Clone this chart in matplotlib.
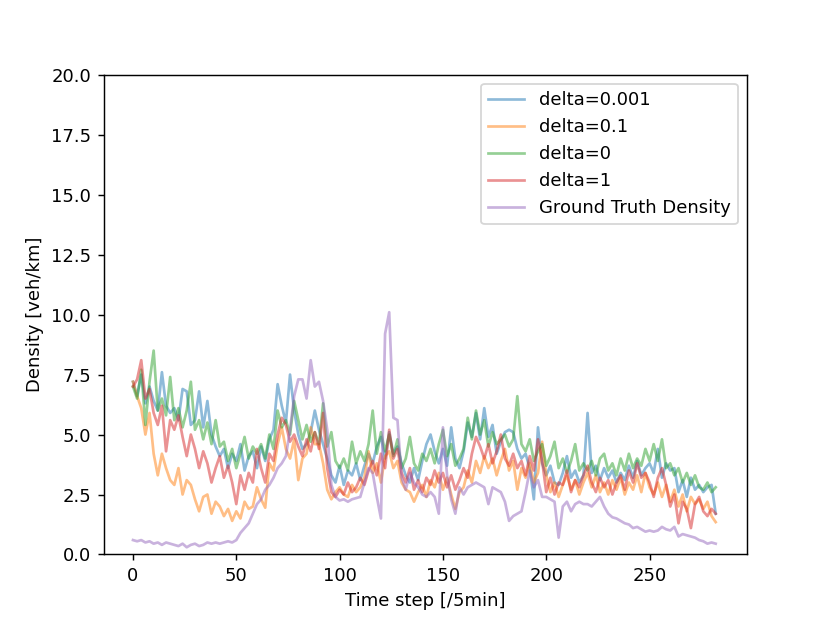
import numpy as np
import matplotlib
matplotlib.use("Agg")
import matplotlib.pyplot as plt

steps = list(range(0, 284, 2))

delta_0001 = [7.2, 6.6, 7.5, 6.3, 7.0, 6.4, 6.0, 7.6, 6.2, 5.9,
              6.1, 5.6, 6.9, 6.8, 5.4, 5.6, 6.8, 5.3, 6.4, 5.0,
              4.5, 4.1, 4.4, 3.6, 4.2, 3.9, 4.6, 3.5, 4.1, 4.3,
              3.6, 4.5, 3.9, 4.8, 5.2, 7.1, 6.2, 5.5, 7.5, 6.0,
              5.0, 4.4, 4.6, 5.1, 6.0, 5.2, 4.6, 4.0, 3.3, 3.0,
              3.7, 2.9, 3.5, 3.3, 3.8, 3.1, 3.7, 4.2, 3.8, 4.5,
              4.9, 4.0, 5.1, 4.2, 4.5, 3.8, 3.3, 3.0, 3.6, 3.1,
              3.9, 4.6, 5.0, 4.3, 3.8, 4.4, 3.7, 5.3, 4.0, 3.6,
              4.3, 5.5, 4.9, 5.9, 4.8, 6.1, 4.9, 5.4, 4.2, 4.7,
              5.1, 5.2, 5.1, 4.4, 4.0, 4.2, 3.6, 2.3, 5.3, 3.8,
              3.3, 3.7, 3.0, 2.9, 3.4, 4.1, 3.2, 3.5, 3.0, 3.3,
              5.9, 3.4, 3.7, 3.1, 3.6, 3.2, 3.5, 3.0, 3.4, 3.1,
              3.7, 3.2, 3.9, 3.3, 3.6, 3.8, 3.4, 4.4, 3.2, 3.8,
              3.5, 3.6, 2.6, 3.1, 2.4, 3.2, 2.7, 2.9, 2.6, 2.8,
              2.9, 1.7]

delta_01 = [7.2, 6.6, 6.1, 5.0, 5.9, 4.2, 3.3, 4.2, 3.6, 3.1,
            2.9, 3.6, 2.5, 3.1, 2.9, 2.3, 1.8, 2.4, 2.5, 1.7,
            2.2, 2.0, 1.6, 1.9, 1.4, 1.8, 1.5, 2.2, 1.9, 2.0,
            2.8, 2.3, 1.95, 3.8, 3.5, 4.6, 5.3, 4.4, 4.0, 4.8,
            3.1, 4.0, 4.2, 5.3, 4.6, 4.6, 3.8, 2.7, 2.3, 2.6,
            2.8, 2.5, 2.4, 2.9, 2.6, 2.8, 3.2, 4.3, 3.4, 3.8,
            3.0, 4.1, 4.3, 3.6, 3.9, 3.0, 2.7, 2.6, 2.2, 2.6,
            2.9, 2.4, 3.1, 2.8, 3.4, 2.7, 3.2, 2.5, 1.9, 2.6,
            2.8, 3.5, 3.0, 3.9, 3.4, 4.1, 3.6, 4.0, 3.3, 3.9,
            4.4, 3.5, 3.9, 2.7, 3.6, 3.2, 3.8, 3.0, 3.4, 4.7,
            3.3, 2.6, 3.0, 2.4, 2.9, 3.3, 2.7, 3.1, 2.5, 3.0,
            3.4, 2.8, 3.3, 2.6, 3.0, 2.5, 3.1, 2.7, 3.2, 2.5,
            3.0, 2.7, 3.3, 2.6, 3.4, 2.8, 2.5, 3.0, 2.4, 2.9,
            2.2, 2.7, 2.0, 2.5, 1.8, 2.4, 2.1, 2.3, 1.9, 2.2,
            1.6, 1.35]

delta_0 = [7.0, 6.5, 7.7, 5.4, 7.2, 8.5, 6.0, 6.5, 5.8, 7.4,
           5.6, 6.1, 5.3, 6.0, 7.2, 5.2, 5.6, 4.8, 5.5, 4.6,
           5.6, 4.5, 4.7, 3.9, 4.4, 3.6, 4.2, 4.9, 4.0, 4.5,
           4.2, 4.6, 4.0, 5.0, 4.4, 6.0, 5.3, 5.6, 5.0, 6.4,
           5.6, 4.8, 5.4, 4.7, 5.1, 4.6, 6.3, 4.5, 5.1, 3.9,
           3.6, 4.0, 3.5, 4.7, 3.8, 4.3, 3.9, 4.6, 6.0, 4.2,
           5.1, 4.3, 5.0, 4.1, 4.8, 3.6, 4.0, 4.9, 3.8, 3.5,
           4.2, 3.9, 4.4, 3.8, 4.6, 5.2, 4.1, 4.6, 3.7, 4.0,
           4.4, 5.7, 4.8, 6.0, 5.0, 5.6, 4.5, 5.1, 4.6, 4.8,
           5.0, 4.5, 4.8, 6.6, 4.6, 4.3, 4.8, 3.9, 4.3, 4.6,
           3.7, 4.1, 4.7, 3.6, 4.0, 3.4, 3.9, 4.6, 3.5, 3.8,
           3.5, 3.9, 3.3, 4.0, 4.2, 3.5, 3.8, 3.3, 4.0, 3.5,
           4.2, 3.6, 4.0, 3.7, 4.4, 3.9, 4.6, 3.9, 4.8, 3.6,
           3.8, 3.3, 3.6, 3.0, 3.4, 2.9, 3.3, 2.8, 2.7, 3.0,
           2.6, 2.8]

delta_1 = [7.0, 7.3, 8.1, 6.5, 6.9, 5.9, 5.4, 6.2, 4.3, 5.6,
           5.2, 5.8, 4.9, 4.1, 5.0, 4.4, 3.6, 4.3, 3.8, 3.0,
           3.6, 4.1, 3.2, 3.7, 3.0, 2.1, 3.3, 2.7, 3.4, 3.0,
           4.4, 3.6, 3.0, 4.2, 3.9, 5.0, 5.7, 5.4, 4.7, 5.0,
           4.5, 4.1, 4.8, 4.3, 5.1, 4.4, 5.9, 3.6, 2.6, 2.4,
           2.7, 2.5, 3.0, 2.6, 2.8, 3.2, 2.9, 3.5, 3.9, 3.3,
           4.2, 3.6, 5.2, 4.0, 4.4, 3.4, 3.0, 3.6, 2.7, 3.1,
           2.6, 3.2, 2.9, 3.5, 3.0, 3.4, 2.8, 3.3, 2.7, 3.1,
           3.6, 3.2, 4.2, 4.9, 4.5, 4.0, 4.6, 3.8, 4.3, 5.0,
           4.0, 3.7, 4.2, 3.6, 3.9, 3.3, 4.1, 3.5, 4.8, 3.9,
           2.6, 3.2, 2.5, 3.0, 2.9, 3.5, 2.6, 3.1, 2.8, 3.3,
           3.7, 3.0, 2.6, 3.2, 2.8, 3.1, 2.5, 3.0, 3.3, 2.7,
           3.5, 3.0, 3.8, 3.2, 3.4, 3.0, 2.4, 3.2, 3.6, 2.9,
           2.0, 2.5, 1.3, 2.2, 1.9, 1.1, 2.1, 2.4, 1.8, 1.6,
           1.9, 1.7]

ground_truth = [0.6, 0.55, 0.6, 0.5, 0.55, 0.45, 0.5, 0.4, 0.5, 0.45,
                0.4, 0.35, 0.45, 0.3, 0.4, 0.45, 0.35, 0.4, 0.5, 0.45,
                0.5, 0.45, 0.5, 0.55, 0.5, 0.6, 0.9, 1.1, 1.3, 1.7,
                2.1, 2.3, 2.7, 2.9, 3.2, 3.6, 3.8, 4.1, 5.2, 6.6,
                7.3, 7.3, 6.5, 8.1, 7.0, 7.2, 6.4, 5.2, 2.9, 2.4,
                2.25, 2.3, 2.2, 2.3, 2.35, 2.4, 3.0, 3.6, 3.4, 2.4,
                1.5, 9.2, 10.1, 5.7, 5.6, 3.2, 2.7, 3.4, 3.0, 2.8,
                2.5, 2.4, 2.6, 2.4, 1.7, 5.3, 3.3, 2.3, 1.7, 2.8,
                2.5, 2.8, 2.9, 3.0, 2.9, 2.8, 2.1, 2.8, 2.7, 2.6,
                2.2, 1.4, 1.6, 1.7, 1.8, 2.6, 3.5, 2.8, 3.1, 2.4,
                2.4, 2.3, 2.2, 0.7, 2.0, 2.2, 1.8, 2.1, 2.2, 2.1,
                2.1, 2.0, 2.2, 2.4, 2.0, 1.7, 1.55, 1.5, 1.4, 1.3,
                1.25, 1.1, 1.15, 1.05, 0.95, 1.0, 0.95, 1.0, 1.15, 1.05,
                1.0, 1.15, 0.75, 0.85, 0.8, 0.75, 0.7, 0.6, 0.55, 0.45,
                0.5, 0.45]

series = [("delta=0.001", delta_0001), ("delta=0.1", delta_01),
          ("delta=0", delta_0), ("delta=1", delta_1),
          ("Ground Truth Density", ground_truth)]

fig, ax = plt.subplots(figsize=(830 / 130, 623 / 130), dpi=130)
for label, vals in series:
    ax.plot(steps, vals, label=label, alpha=0.5, linewidth=1.5)
ax.set_ylim(0, 20)
ax.set_xlim(-14.15, 297.15)
ax.set_xlabel("Time step [/5min]")
ax.set_ylabel("Density [veh/km]")
ax.legend(loc="upper right")
fig.savefig("out.png", dpi=130)
